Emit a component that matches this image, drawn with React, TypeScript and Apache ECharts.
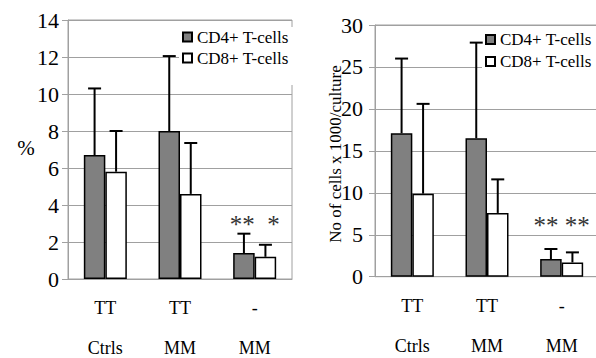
import React, { useEffect, useRef } from "react";
import * as echarts from "echarts";

const FONT = "Liberation Serif";

const categories = ["TT\nCtrls", "TT\nMM", "-\nMM"];
const seriesNames = ["CD4+ T-cells", "CD8+ T-cells"];

// Left chart: percentage
const pctCD4 = [6.7, 8.0, 1.4];
const pctCD4SD = [3.6, 4.05, 1.05];
const pctCD8 = [5.8, 4.6, 1.2];
const pctCD8SD = [2.2, 2.75, 0.65];
const pctSig = ["", "", "**\u00a0\u00a0*"];
const pctTicks = { min: 0, max: 14, interval: 2 };

// Right chart: number of cells x 1000 / culture
const numCD4 = [17.1, 16.5, 2.1];
const numCD4SD = [8.9, 11.4, 1.2];
const numCD8 = [9.9, 7.6, 1.7];
const numCD8SD = [10.7, 4.0, 1.2];
const numSig = ["", "", "**\u00a0**"];
const numTicks = { min: 0, max: 30, interval: 5 };

const BAR_W = 21.5;
const GRID_COLOR = "#a0a0a0";

function errorSeries(idx: number, means: number[], sds: number[], offset: number) {
  return {
    type: "custom",
    xAxisIndex: idx,
    yAxisIndex: idx,
    silent: true,
    z: 5,
    data: means.map((m, i) => [i, m, m + sds[i]]),
    encode: { x: 0, y: [1, 2] },
    renderItem: (params: any, api: any) => {
      const c = api.value(0);
      const b = api.coord([c, api.value(1)]);
      const t = api.coord([c, api.value(2)]);
      const x = b[0] + offset;
      const style = { stroke: "#000", lineWidth: 2 };
      return {
        type: "group",
        children: [
          { type: "line", shape: { x1: x, y1: b[1], x2: x, y2: t[1] }, style },
          { type: "line", shape: { x1: x - 6.5, y1: t[1], x2: x + 6.5, y2: t[1] }, style },
        ],
      };
    },
  };
}

function sigSeries(idx: number, sig: string[], yVal: number) {
  return {
    type: "custom",
    xAxisIndex: idx,
    yAxisIndex: idx,
    silent: true,
    z: 6,
    data: sig.map((_, i) => [i, yVal]),
    renderItem: (params: any, api: any) => {
      const p = api.coord([api.value(0), api.value(1)]);
      return {
        type: "text",
        x: p[0],
        y: p[1],
        style: {
          text: sig[params.dataIndex],
          fontSize: 25,
          fontFamily: FONT,
          fill: "#333",
          textAlign: "center",
          textVerticalAlign: "middle",
        },
      };
    },
  };
}

function barSeries(idx: number, name: string, data: number[], color: string) {
  return {
    type: "bar",
    name,
    xAxisIndex: idx,
    yAxisIndex: idx,
    data,
    barWidth: BAR_W,
    barGap: "0%",
    itemStyle: { color, borderColor: "#000", borderWidth: 1.5 },
  };
}

function xAxis(idx: number, margin: number) {
  return {
    type: "category",
    gridIndex: idx,
    data: categories,
    axisLine: { lineStyle: { color: GRID_COLOR, width: 1 } },
    axisTick: { show: false },
    axisLabel: {
      color: "#000",
      fontSize: 18,
      fontFamily: FONT,
      lineHeight: 40,
      margin,
      interval: 0,
    },
  };
}

function yAxis(idx: number, ticks: { min: number; max: number; interval: number }, margin: number) {
  return {
    type: "value",
    gridIndex: idx,
    min: ticks.min,
    max: ticks.max,
    interval: ticks.interval,
    axisLine: { show: true, lineStyle: { color: GRID_COLOR, width: 1 } },
    axisTick: { show: true, length: 6, lineStyle: { color: GRID_COLOR } },
    splitLine: { show: true, lineStyle: { color: GRID_COLOR, width: 1 } },
    axisLabel: { color: "#000", fontSize: 22, fontFamily: FONT, margin },
  };
}

function legend(left: number, top: number, lineHeight: number, padding: number[]) {
  return {
    orient: "vertical",
    left,
    top,
    itemWidth: 9,
    itemHeight: 9,
    itemGap: 1,
    icon: "rect",
    selectedMode: false,
    backgroundColor: "#fff",
    padding,
    data: seriesNames,
    textStyle: { fontSize: 17, color: "#000", fontFamily: FONT, lineHeight },
  };
}

export default function App() {
  const ref = useRef<HTMLDivElement>(null);
  useEffect(() => {
    document.body.style.margin = "0";
    if (!ref.current) return;
    const chart = echarts.init(ref.current, null, { renderer: "svg" });
    chart.setOption({
      animation: false,
      textStyle: { fontFamily: FONT },
      grid: [
        {
          left: 68, top: 20, width: 224, height: 259,
          show: true, borderColor: GRID_COLOR, borderWidth: 1,
          containLabel: false, outerBoundsMode: "none",
        },
        {
          left: 375, top: 25, width: 224, height: 251.7,
          show: true, borderColor: GRID_COLOR, borderWidth: 1,
          containLabel: false, outerBoundsMode: "none",
        },
      ],
      xAxis: [xAxis(0, 9), xAxis(1, 9)],
      yAxis: [yAxis(0, pctTicks, 9), yAxis(1, numTicks, 12)],
      legend: [
        legend(179, 27, 20, [0, 6, 17, 3]),
        legend(482, 29, 21, [0, 20, 12, 3]),
      ],
      graphic: [
        {
          type: "text",
          x: 26,
          y: 148,
          style: { text: "%", fontSize: 21, fontFamily: FONT, fill: "#000", textAlign: "center", textVerticalAlign: "middle" },
        },
        {
          type: "text",
          x: 335,
          y: 154,
          rotation: Math.PI / 2,
          style: {
            text: "No of cells x 1000/culture",
            fontSize: 17,
            fontFamily: FONT,
            fill: "#000",
            textAlign: "center",
            textVerticalAlign: "middle",
          },
        },
      ],
      series: [
        barSeries(0, seriesNames[0], pctCD4, "#808080"),
        barSeries(0, seriesNames[1], pctCD8, "#ffffff"),
        errorSeries(0, pctCD4, pctCD4SD, -BAR_W / 2),
        errorSeries(0, pctCD8, pctCD8SD, BAR_W / 2),
        sigSeries(0, pctSig, 2.92),
        barSeries(1, seriesNames[0], numCD4, "#808080"),
        barSeries(1, seriesNames[1], numCD8, "#ffffff"),
        errorSeries(1, numCD4, numCD4SD, -BAR_W / 2),
        errorSeries(1, numCD8, numCD8SD, BAR_W / 2),
        sigSeries(1, numSig, 6.16),
      ],
    });
    return () => chart.dispose();
  }, []);
  return <div ref={ref} style={{ width: 596, height: 358 }} />;
}
